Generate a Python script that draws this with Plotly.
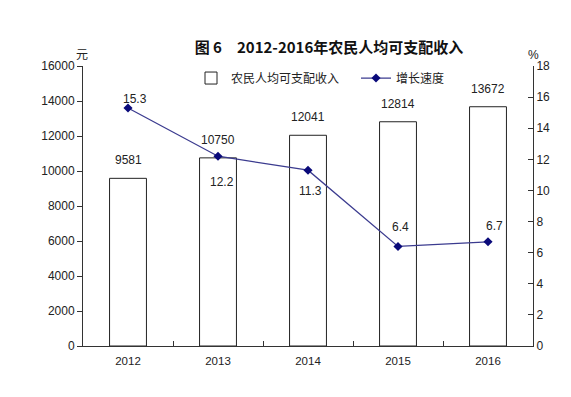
import plotly.graph_objects as go

years = ["2012", "2013", "2014", "2015", "2016"]
income = [9581, 10750, 12041, 12814, 13672]
growth = [15.3, 12.2, 11.3, 6.4, 6.7]

# label placement offsets (pixels) for the growth-rate labels: (dx, dy)
growth_label_offsets = [(7, 9), (4, -26), (2, -21), (2, 19), (6, 16)]

left_ticks = list(range(0, 16001, 2000))
right_ticks = list(range(0, 19, 2))

fig = go.Figure()
fig.add_trace(go.Bar(
    x=years, y=income, name="农民人均可支配收入",
    marker=dict(color="white", line=dict(color="#222222", width=1)),
    width=0.41, legend="legend",
))
fig.add_trace(go.Scatter(
    x=years, y=growth, name="增长速度", yaxis="y2", mode="lines+markers",
    line=dict(color="#3b3b8f", width=1.3),
    marker=dict(symbol="diamond", size=7, color="#0a0a7a"),
    legend="legend2",
))

annotations = []
for i, v in enumerate(income):
    annotations.append(dict(x=i, y=v, xref="x", yref="y", text=str(v), showarrow=False,
                            yshift=18, font=dict(size=12, color="#222")))
for i, (v, (dx, dy)) in enumerate(zip(growth, growth_label_offsets)):
    annotations.append(dict(x=i, y=v, xref="x", yref="y2", text=f"{v}", showarrow=False,
                            xshift=dx, yshift=dy, font=dict(size=12, color="#222")))
annotations += [
    dict(x=0, y=1.0, xref="paper", yref="paper", text="元", showarrow=False,
         yanchor="bottom", xanchor="center", yshift=2, xshift=-1, font=dict(size=12, color="#222")),
    dict(x=1, y=1.0, xref="paper", yref="paper", text="%", showarrow=False,
         yanchor="bottom", xanchor="center", yshift=2, font=dict(size=12, color="#222")),
]

legend_style = dict(orientation="h", xanchor="left", y=0.957, yanchor="middle",
                    font=dict(family="Noto Sans CJK SC", size=12, color="#222"),
                    bgcolor="rgba(0,0,0,0)", itemwidth=30)

fig.update_layout(
    width=571, height=397,
    margin=dict(l=83, r=38, t=66, b=51),
    paper_bgcolor="white", plot_bgcolor="white",
    font=dict(family="Liberation Sans, Noto Sans CJK SC", size=12, color="#222"),
    title=dict(text="<b>图 6　2012-2016年农民人均可支配收入</b>", x=329/571, xanchor="center",
               y=1 - 48/397, yanchor="middle",
               font=dict(family="Noto Sans CJK SC", size=15, color="#111")),
    showlegend=True,
    legend=dict(x=(191 - 83) / 450, **legend_style),
    legend2=dict(x=(356 - 83) / 450, **legend_style),
    bargap=0.59,
    xaxis=dict(type="category", range=[-0.5, 4.5], showline=True, linecolor="#333", linewidth=1,
               ticks="inside", tickson="boundaries", ticklen=5, tickcolor="#333",
               ticklabelstandoff=4,
               tickfont=dict(size=11.5, family="Liberation Sans"), showgrid=False),
    yaxis=dict(range=[0, 16000], tickvals=left_ticks, tickformat="d", showline=True, linecolor="#333",
               linewidth=1, ticks="outside", ticklen=5, tickcolor="#333", showgrid=False,
               zeroline=False, tickfont=dict(size=12)),
    yaxis2=dict(range=[0, 18], tickvals=right_ticks, overlaying="y", side="right",
                showline=True, linecolor="#333", linewidth=1, ticks="inside", ticklen=5,
                tickcolor="#333", showgrid=False, zeroline=False, tickfont=dict(size=12)),
    annotations=annotations,
)

fig.write_html("out.html", config={"displayModeBar": False},
               post_script="document.body.style.margin='0';document.body.style.padding='0';")
